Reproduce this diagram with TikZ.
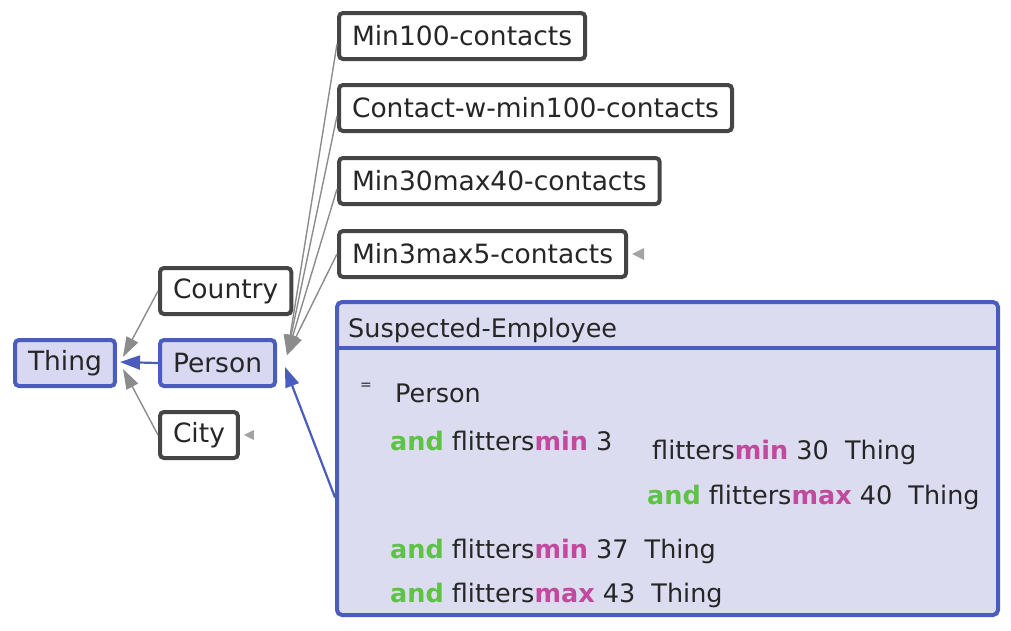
\documentclass[tikz,border=0pt]{standalone}
\usepackage{fontspec}
\setmainfont{DejaVu Sans}
\usetikzlibrary{arrows.meta,calc}
\definecolor{boxgray}{HTML}{454545}
\definecolor{selblue}{HTML}{4A5DBF}
\definecolor{selfill}{HTML}{D8D8F2}
\definecolor{bigfill}{HTML}{DCDCF0}
\definecolor{edgegray}{HTML}{8C8C8C}
\definecolor{txt}{HTML}{262626}
\definecolor{andgreen}{HTML}{5DC245}
\definecolor{kwmag}{HTML}{C24A9E}
\newcommand\kand{{\color{andgreen}\bfseries and}}
\newcommand\kmin{{\color{kwmag}\bfseries min}}
\newcommand\kmax{{\color{kwmag}\bfseries max}}
\tikzset{
  cls/.style={draw=boxgray, line width=4pt, rounded corners=4pt, fill=white,
    inner xsep=13pt, inner ysep=0pt, minimum height=46pt, anchor=west,
    text=txt, font=\fontsize{26.5}{30}\selectfont},
  selcls/.style={cls, draw=selblue, fill=selfill},
  gedge/.style={draw=edgegray, line width=1.4pt, -{Triangle[length=20pt,width=13pt]}, edgegray},
  bedge/.style={draw=selblue, line width=2.2pt, -{Triangle[length=20pt,width=14pt]}, selblue},
  tri/.style={fill=edgegray!80},
  ct/.style={anchor=base west, inner sep=0pt, text=txt, font=\fontsize{25.5}{29}\selectfont},
}
\begin{document}
\begin{tikzpicture}[x=1pt,y=-1pt]
\useasboundingbox (0,0) rectangle (1011,630);
% left column
\node[selcls] (thing) at (13,363) {Thing};
\node[cls] (country) at (158,291) {Country};
\node[selcls] (person) at (158,363) {Person};
\node[cls] (city) at (158,435) {City};
% right column
\node[cls] (min100) at (337,36) {Min100-contacts};
\node[cls] (contact) at (337,108) {Contact-w-min100-contacts};
\node[cls] (min30) at (337,181) {Min30max40-contacts};
\node[cls] (min3) at (337,254) {Min3max5-contacts};
% big box
\node[draw=selblue, fill=bigfill, line width=4pt, rounded corners=5pt,
      minimum width=661pt, minimum height=313pt, inner sep=0pt] (se) at (667.5,458.5) {};
\draw[selblue, line width=4pt] ($(se.north west)+(0,48)$) -- ($(se.north east)+(0,48)$);
\node[ct] (hdr) at (348,337) {Suspected-Employee};
\node[ct, font=\fontsize{14}{16}\selectfont] (eq) at (360,389) {=};
\node[ct] (l1) at (395,402) {Person};
\node[ct] (l2) at (390,450) {\kand\ flitters\kmin\ 3};
\node[ct] (l3) at (652,459) {flitters\kmin\ 30\ \ Thing};
\node[ct] (l4) at (647,504) {\kand\ flitters\kmax\ 40\ \ Thing};
\node[ct] (l5) at (390,558) {\kand\ flitters\kmin\ 37\ \ Thing};
\node[ct] (l6) at (390,602) {\kand\ flitters\kmax\ 43\ \ Thing};
% small triangles
\fill[tri] ([xshift=4pt]city.east) -- ++(10,-5) -- ++(0,10) -- cycle;
\fill[tri] ([xshift=4pt]min3.east) -- ++(12,-6) -- ++(0,12) -- cycle;
% edges to Thing
\draw[gedge] (country.west) -- ([xshift=6pt,yshift=6pt]thing.east);
\draw[gedge] (city.west) -- ([xshift=6pt,yshift=-6pt]thing.east);
\draw[bedge] (person.west) -- ([xshift=3pt,yshift=1pt]thing.east);
% edges to Person
\draw[gedge] ([yshift=-8pt]min100.west) -- ([xshift=10pt,yshift=8pt]person.east);
\draw[gedge] ([yshift=-8pt]contact.west) -- ([xshift=10pt,yshift=8pt]person.east);
\draw[gedge] ([yshift=-8pt]min30.west) -- ([xshift=10pt,yshift=8pt]person.east);
\draw[gedge] (min3.west) -- ([xshift=10pt,yshift=8pt]person.east);
\draw[bedge] ([yshift=-39pt]se.west) -- ([xshift=8pt,yshift=-4pt]person.east);
\end{tikzpicture}
\end{document}
